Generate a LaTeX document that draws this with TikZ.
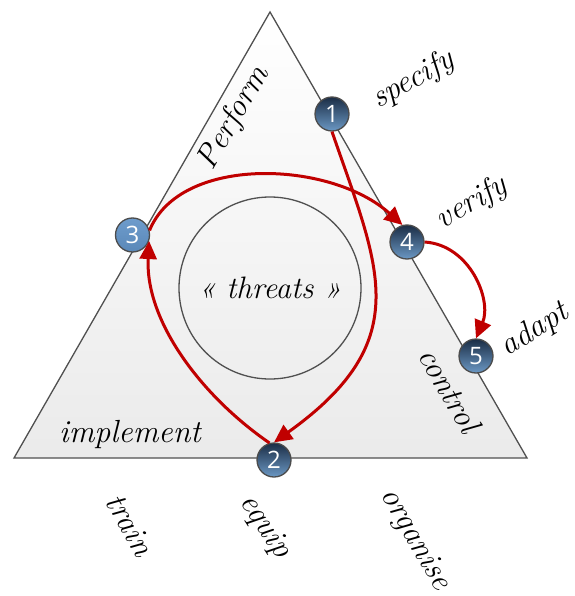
\documentclass[tikz,border=0pt]{standalone}
\usepackage{fontspec}
\setsansfont{Open Sans}
\usetikzlibrary{arrows.meta}
\definecolor{arrowred}{HTML}{C00000}
\definecolor{edgegray}{HTML}{505050}
\definecolor{balltop}{HTML}{1B2D45}
\definecolor{ballbot}{HTML}{6B98C4}
\definecolor{lighttop}{HTML}{6E9CCC}
\definecolor{lightbot}{HTML}{5A88B8}
\begin{document}
\begin{tikzpicture}[x=1pt,y=-1pt,
  ball/.style={circle, draw=black!70, line width=1.3pt, minimum size=34pt, inner sep=0pt,
    top color=balltop, bottom color=ballbot, text=white,
    font=\sffamily\fontsize{24}{24}\selectfont},
  lightball/.style={ball, top color=lighttop, bottom color=lightbot},
  hand/.style={font=\itshape\fontsize{32}{34}\selectfont, inner sep=0pt},
  redarrow/.style={draw=arrowred, line width=3pt, -{Triangle[length=18pt,width=17pt]}}]
\useasboundingbox (0,0) rectangle (574,596);
% triangle
\coordinate (apex) at (270,12);
\coordinate (bl) at (14,458);
\coordinate (br) at (527,458);
\draw[edgegray, line width=1.3pt, top color=white, bottom color=black!8]
  (apex) -- (bl) -- (br) -- cycle;
% threats circle
\node[circle, draw=edgegray, line width=1.3pt, minimum size=182pt, inner sep=0pt,
  font=\itshape\fontsize{31}{33}\selectfont] (threats) at (270,288) {« threats »};
% labels
\node[hand, rotate=29] (specify) at (413,80) {specify};
\node[hand, rotate=30] (verify) at (472,203) {verify};
\node[hand, rotate=32] (adapt) at (535,330) {adapt};
\node[hand, rotate=60] (perform) at (234,118) {Perform};
\node[hand, rotate=-60] (control) at (450,390) {control};
\node[hand] (implement) at (130,434) {implement};
\node[hand, rotate=-60] (train) at (130,525) {train};
\node[hand, rotate=-57] (equip) at (265,527) {equip};
\node[hand, rotate=-60] (organise) at (415,540) {organise};
% balls
\node[ball] (b1) at (332,114) {1};
\node[ball] (b2) at (274,460) {2};
\node[lightball] (b3) at (132.5,235) {3};
\node[ball] (b4) at (407,242) {4};
\node[ball] (b5) at (476,356) {5};
% arrows
\draw[redarrow] (b1.south) .. controls (379,268) and (417,340) .. (b2.north);
\draw[redarrow] (b2.105) .. controls (200,395) and (145,320) .. (b3.-20);
\draw[redarrow] (b3.15) .. controls (180,155) and (330,160) .. (b4.105);
\draw[redarrow] (b4.east) .. controls (470,245) and (492,300) .. (b5.north);
\end{tikzpicture}
\end{document}
